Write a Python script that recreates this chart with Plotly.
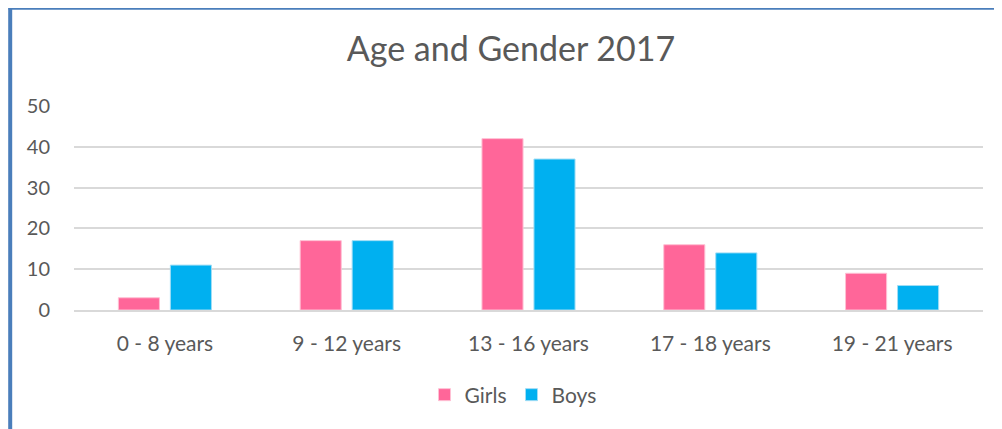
import plotly.graph_objects as go

categories = ["0 - 8 years", "9 - 12 years", "13 - 16 years", "17 - 18 years", "19 - 21 years"]
girls = [3, 17, 42, 16, 9]
boys = [11, 17, 37, 14, 6]
title_text = "Age and Gender 2017"

W, H = 1002, 429
OFF = 8  # page body margin offset
L, R, T, B = 74 - OFF, 983 - OFF, 106 - OFF, 310 - OFF

fig = go.Figure()
fig.add_trace(go.Bar(name="Girls", x=categories, y=girls, marker=dict(color="#FF6699", line=dict(color="#FFC0D4", width=1))))
fig.add_trace(go.Bar(name="Boys", x=categories, y=boys, marker=dict(color="#00B0F0", line=dict(color="#A0DDF5", width=1))))

def px_x(px):
    return (px - OFF - L) / (R - L)

def px_y(py):
    return (B - (py - OFF)) / (B - T)

font_family = "Lato, Open Sans, sans-serif"
fig.update_layout(
    width=W, height=H,
    margin=dict(l=L, r=W - R, t=T, b=H - B, autoexpand=False),
    paper_bgcolor="white", plot_bgcolor="white",
    barmode="group", bargap=0.428, bargroupgap=0.21,
    title=dict(text=title_text, x=(511 - OFF) / W, xanchor="center", y=1 - (49 - OFF) / H, yanchor="middle",
               font=dict(family=font_family, size=34, color="#595959")),
    font=dict(family=font_family, size=20, color="#595959"),
    xaxis=dict(showgrid=False, showline=True, linecolor="#D9D9D9", linewidth=2, ticks="", ticklabelstandoff=14,
               tickfont=dict(size=21)),
    yaxis=dict(range=[0, 50], dtick=10, showgrid=True, gridcolor="#D9D9D9", gridwidth=2,
               zeroline=False, showline=False, ticks="", ticklabelstandoff=23, tickfont=dict(size=20)),
    legend=dict(orientation="h", x=px_x(513), xanchor="center", y=px_y(395), yanchor="middle",
                font=dict(size=21), traceorder="normal", itemwidth=30),
    showlegend=True,
    shapes=[
        dict(type="line", xref="paper", yref="paper", x0=px_x(8.5), x1=px_x(W + 20), y0=px_y(8.3), y1=px_y(8.3),
             line=dict(color="#4A7EBB", width=3)),
        dict(type="line", xref="paper", yref="paper", x0=px_x(10.2), x1=px_x(10.2), y0=px_y(7), y1=px_y(H + 20),
             line=dict(color="#4A7EBB", width=4)),
    ],
)

fig.write_html("out.html")
